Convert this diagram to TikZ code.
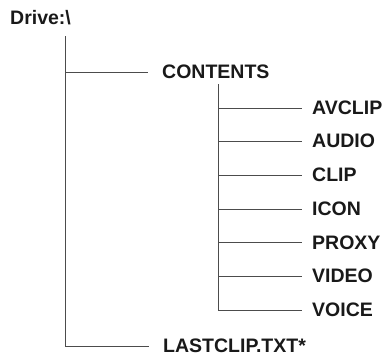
\documentclass[tikz,border=0pt]{standalone}
\usepackage{fontspec}
\setmainfont{Liberation Sans}
\begin{document}
\begin{tikzpicture}[x=1pt,y=-1pt,
  lbl/.style={anchor=west,inner sep=0pt,font=\bfseries\fontsize{19.5}{21}\selectfont,text=black!90},
  conn/.style={draw=black!70,line width=0.9pt}]
\useasboundingbox (0,0) rectangle (387,356);
\node[lbl] (drive) at (10,17.5) {Drive:\textbackslash};
\node[lbl] (contents) at (162,72) {CONTENTS};
\node[lbl] (last) at (163,346) {LASTCLIP.TXT*};
\node[lbl] (avclip) at (312,108) {AVCLIP};
\node[lbl] (audio) at (312,141) {AUDIO};
\node[lbl] (clip) at (312,175) {CLIP};
\node[lbl] (icon) at (312,209) {ICON};
\node[lbl] (proxy) at (312,242.5) {PROXY};
\node[lbl] (video) at (312,276) {VIDEO};
\node[lbl] (voice) at (312,310) {VOICE};
\coordinate (r) at (65,36);
\coordinate (s) at (218,84);
\draw[conn] (r) |- ([xshift=-14pt]last.west);
\draw[conn] (r |- contents.west) -- ([xshift=-14pt]contents.west);
\draw[conn] (s) |- ([xshift=-10pt]voice.west);
\foreach \n in {avclip,audio,clip,icon,proxy,video}
  \draw[conn] (s |- \n.west) -- ([xshift=-10pt]\n.west);
\end{tikzpicture}
\end{document}
